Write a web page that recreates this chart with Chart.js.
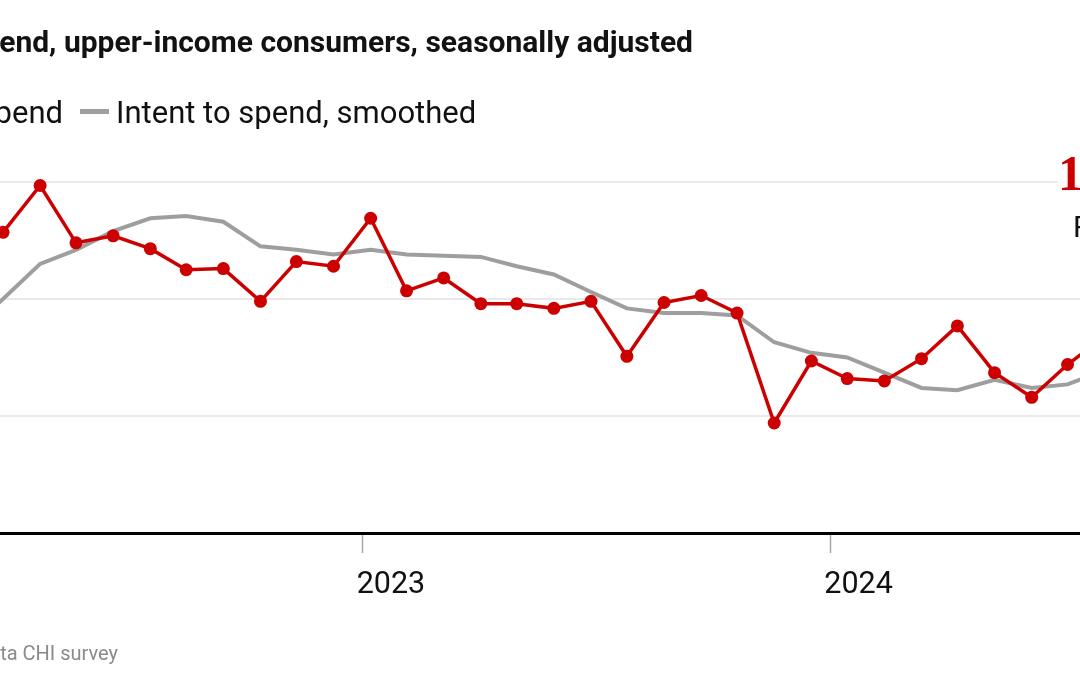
<!DOCTYPE html>
<html><head><meta charset="utf-8">
<script src="https://cdn.jsdelivr.net/npm/chart.js@4/dist/chart.umd.min.js"></script>
<style>
html,body{margin:0;padding:0;background:#fff;width:1080px;height:675px;overflow:hidden;position:relative;font-family:Roboto,"Noto Sans",sans-serif;}
#c{position:absolute;left:0;top:0;}
.t{position:absolute;white-space:nowrap;line-height:1;}
#title{right:387px;top:27px;font-weight:700;font-size:30px;color:#121212;}
#leg1{right:1017px;top:97px;font-size:31px;color:#111;display:flex;align-items:center;}
#leg1 .mk{display:inline-block;width:30px;height:4px;background:#cc0000;margin-right:10px;position:relative;}
#leg2mk{position:absolute;left:80px;top:109px;width:29px;height:5px;background:#a0a0a0;}
#leg2{left:116px;top:97px;font-size:31px;color:#111;}
#src{right:962px;top:643px;font-size:20px;color:#8a8a8a;}
#ann{left:1058px;top:148px;font-family:"Liberation Serif",serif;font-weight:700;font-size:50px;color:#cc0000;background:#fff;padding-right:20px;}
#ann2{left:1073px;top:212px;font-size:30px;color:#111;}
</style></head>
<body>
<canvas id="c" width="1080" height="675"></canvas>
<div class="t" id="title">Intent to spend, upper-income consumers, seasonally adjusted</div>
<div class="t" id="leg1"><span class="mk"></span>Intent to spend</div>
<div id="leg2mk"></div>
<div class="t" id="leg2">Intent to spend, smoothed</div>
<div class="t" id="src">data CHI survey</div>
<div class="t" id="ann">105</div>
<div class="t" id="ann2">R</div>
<script>
// survey dates (roughly every four weeks)
const dates = ['2022-02-25','2022-03-26','2022-04-24','2022-05-22','2022-06-20','2022-07-19','2022-08-16',
 '2022-09-14','2022-10-13','2022-11-10','2022-12-09','2023-01-07','2023-02-04','2023-03-05','2023-04-03',
 '2023-05-01','2023-05-30','2023-06-28','2023-07-26','2023-08-24','2023-09-22','2023-10-20','2023-11-18',
 '2023-12-17','2024-01-14','2024-02-12','2024-03-12','2024-04-09','2024-05-08','2024-06-06','2024-07-04','2024-08-02'];
const intentToSpend = [102.0,105.7,109.7,104.8,105.4,104.3,102.5,102.6,99.8,103.2,102.8,106.9,100.7,101.8,99.6,99.6,
 99.2,99.8,95.1,99.7,100.3,98.8,89.4,94.7,93.2,93.0,94.9,97.7,93.7,91.6,94.4,96.8];
const intentSmoothed = [97.1,100.0,103.0,104.2,105.8,106.9,107.1,106.6,104.5,104.2,103.8,104.2,103.8,103.7,103.6,102.8,
 102.1,100.6,99.2,98.8,98.8,98.6,96.3,95.4,95.0,93.7,92.4,92.2,93.1,92.4,92.7,93.9];
const yearTicks = [2023, 2024];

const xs = dates.map(d => Date.parse(d));
const red = '#cc0000';
new Chart(document.getElementById('c'), {
  type: 'line',
  data: {
    datasets: [
      {label:'Intent to spend', data: xs.map((x,i)=>({x, y:intentToSpend[i]})), borderColor:red, backgroundColor:red,
       borderWidth:3.5, pointRadius:6.5, pointBorderWidth:0, pointBackgroundColor:red, tension:0, clip:false},
      {label:'Intent to spend, smoothed', data: xs.map((x,i)=>({x, y:intentSmoothed[i]})), borderColor:'#9e9e9e',
       borderWidth:4, pointRadius:0, tension:0, clip:false}
    ]
  },
  options: {
    responsive:false, animation:false, maintainAspectRatio:false,
    layout:{autoPadding:false, padding:{top:182,bottom:62,left:0,right:0}},
    plugins:{legend:{display:false}, tooltip:{enabled:false}},
    scales:{
      x:{type:'linear', min:Date.UTC(2022,2,23,16), max:Date.UTC(2024,6,13,17),
         afterBuildTicks:(s)=>{ s.ticks = yearTicks.map(y=>({value:Date.UTC(y,0,1)})); },
         afterFit:(s)=>{ s.height = 80; },
         grid:{drawOnChartArea:false, drawTicks:true, tickLength:20, tickColor:'#a8a8a8', tickWidth:1.5},
         border:{display:true, color:'#000', width:3},
         ticks:{font:{family:'Roboto', size:30.5}, color:'#111', padding:14, labelOffset:28, maxRotation:0, autoSkip:false,
                callback:(v)=>String(new Date(v).getUTCFullYear())}},
      y:{min:80, max:110, ticks:{display:false, stepSize:10},
         grid:{color:'#e9e9e9', lineWidth:2, drawTicks:false}, border:{display:false},
         afterFit:(s)=>{ s.width = 0; }}
    }
  }
});
</script>
</body></html>
